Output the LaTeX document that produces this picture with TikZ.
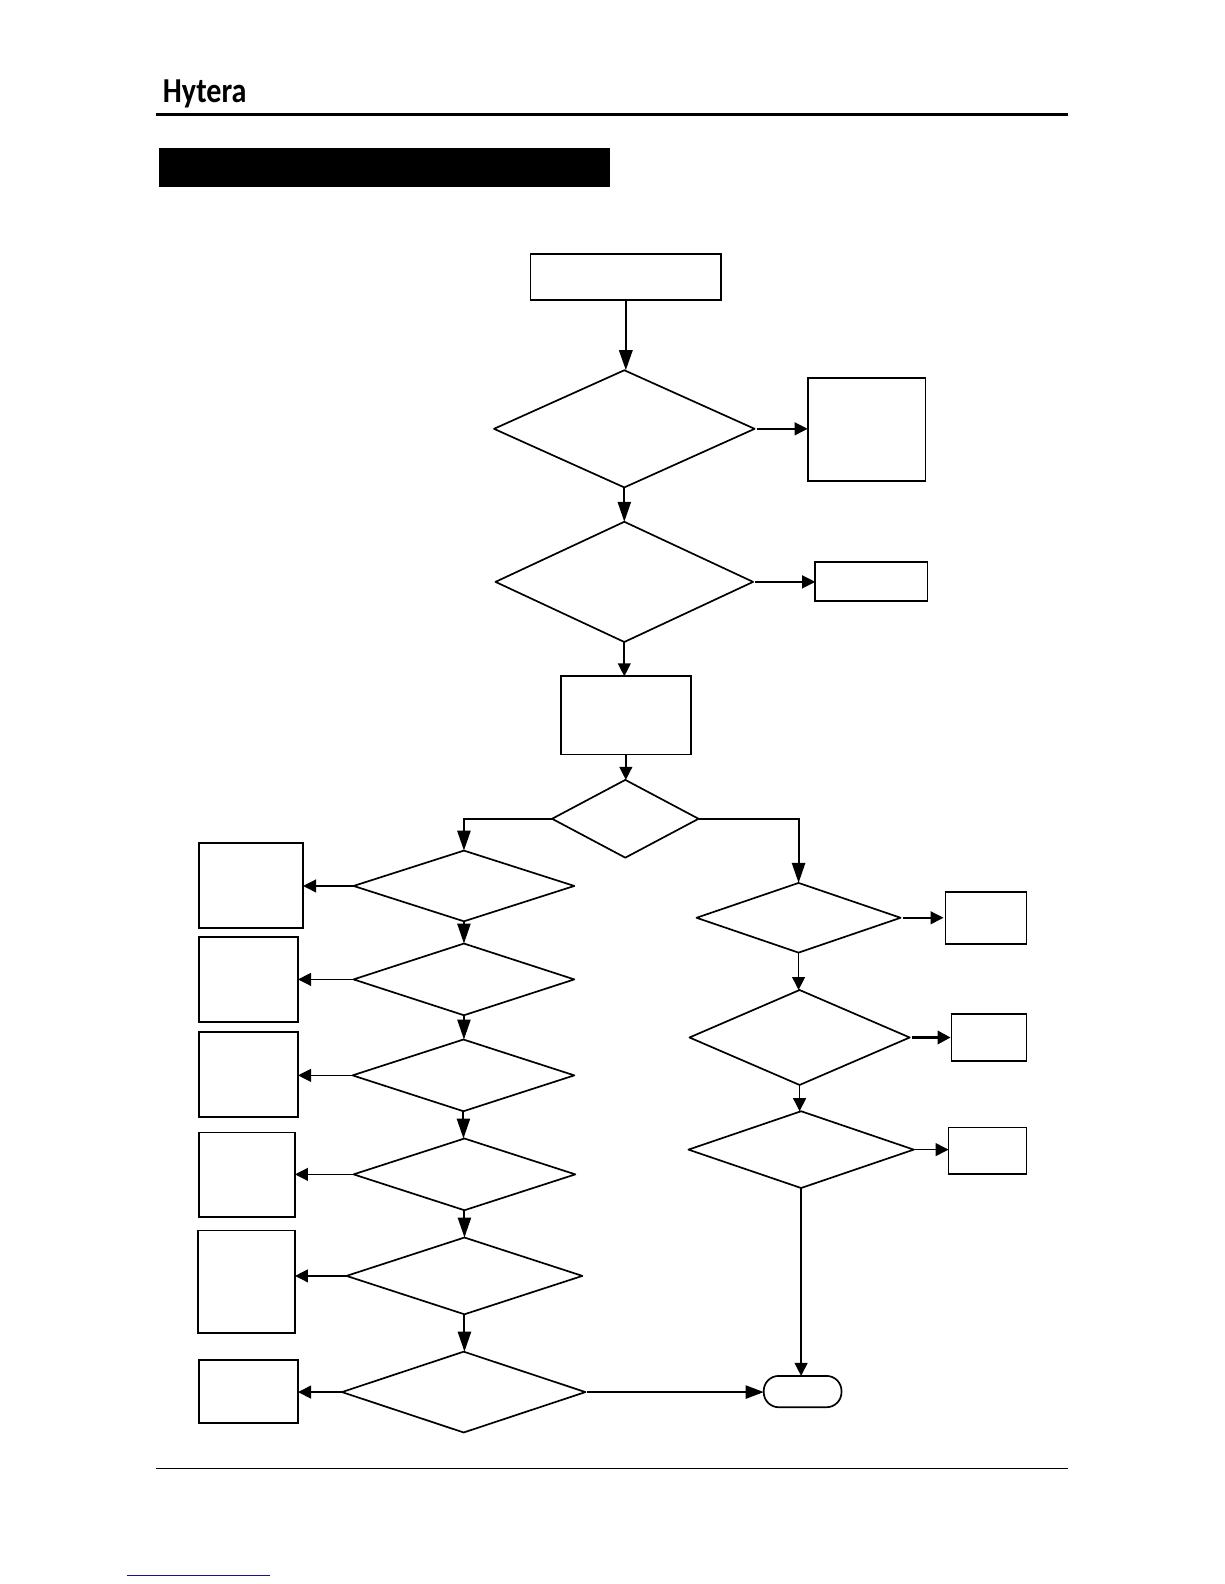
\documentclass[tikz,border=0pt]{standalone}
\usepackage{fontspec}
\setmainfont{Carlito}
\usetikzlibrary{shapes.geometric,arrows.meta}
\def\U{0.50495pt}
\tikzset{
  boxs/.style={draw=black,line width=0.85pt,inner sep=0pt,outer sep=0pt,rectangle},
  dias/.style={draw=black,line width=0.85pt,line join=round,inner sep=0pt,outer sep=0pt,diamond},
  termin/.style={draw=black,line width=0.85pt,inner sep=0pt,outer sep=0pt,rectangle,rounded corners=7.5pt},
  conn/.style={draw=black,line width=0.85pt,-{Triangle[length=6.5pt,width=6.4pt]}},
  tallconn/.style={draw=black,line width=0.95pt,-{Triangle[length=10pt,width=6.6pt]}},
  connthick/.style={draw=black,line width=1.4pt,-{Triangle[length=6.5pt,width=6.6pt]}},
  rule/.style={draw=black,line cap=butt},
}
\newcommand{\RB}[5]{\node[boxs,minimum width={(#4-#2)*\U},minimum height={(#5-#3)*\U}] (#1) at ({(#2+#4)/2},{(#3+#5)/2}) {};}
\newcommand{\DM}[5]{\node[dias,minimum width={(#4-#2)*\U},minimum height={(#5-#3)*\U}] (#1) at ({(#2+#4)/2},{(#3+#5)/2}) {};}
\begin{document}
\begin{tikzpicture}[x=\U,y=-\U]
\useasboundingbox (0,0) rectangle (1212,1568);
% header and footer
\node[anchor=base west,inner sep=0pt,transform shape,xscale=0.86,font=\fontsize{17.5pt}{18pt}\selectfont\bfseries] (logo) at (161,101) {Hytera};
\coordinate (ruleAl) at (154,113); \coordinate (ruleAr) at (1057,113);
\draw[rule,line width=1.5pt] (ruleAl) -- (ruleAr);
\node[fill=black,draw=none,inner sep=0pt,outer sep=0pt,minimum width={447*\U},minimum height={38.5*\U}] (title) at (380.5,165.7) {};
\coordinate (ruleBl) at (154,1454); \coordinate (ruleBr) at (1057,1454);
\draw[rule,line width=0.5pt] (ruleBl) -- (ruleBr);
\coordinate (linkl) at (126,1559.5); \coordinate (linkr) at (267,1559.5);
\draw[draw={rgb,255:red,20;green,20;blue,130},line width=0.6pt] (linkl) -- (linkr);
% central column
\RB{start}{525}{251.5}{714}{297}
\DM{Da}{489}{366.5}{747}{482.5}
\RB{Ba}{799.5}{374.5}{916}{476}
\DM{Db}{490.5}{516.5}{745.5}{635.5}
\RB{Bb}{807}{556.5}{918}{595}
\RB{Bc}{555}{669.5}{684}{747}
\DM{Dc}{546.5}{772}{691.5}{849}
% left column
\DM{La}{350}{842}{568.5}{912}
\DM{Lb}{350}{934}{568.5}{1005}
\DM{Lc}{349}{1029}{568.5}{1100}
\DM{Ld}{350}{1127}{569.5}{1198}
\DM{Le}{343}{1225}{576.5}{1301}
\DM{Lf}{338.5}{1338}{579.5}{1418}
\RB{Pa}{197}{834.5}{300}{918.5}
\RB{Pb}{197}{927.5}{295}{1012}
\RB{Pc}{197}{1021.5}{295}{1106}
\RB{Pd}{197}{1121}{292}{1205}
\RB{Pe}{196}{1218}{292}{1319.5}
\RB{Pf}{197}{1346}{295}{1408.5}
% right column
\DM{Ra}{689.5}{874}{891.5}{943}
\DM{Rb}{682.5}{980}{900.5}{1074}
\DM{Rc}{681.5}{1100}{904.5}{1176}
\RB{Qa}{936}{883}{1016}{934.5}
\RB{Qb}{942}{1004}{1016}{1050}
\RB{Qc}{939}{1116}{1016}{1162}
\node[termin,minimum width={77*\U},minimum height={31*\U}] (End) at (794.5,1377.5) {};
% connectors
\draw[tallconn,line width=1.3pt] (start.south) -- (start.south |- Da.north);
\draw[tallconn] (Da.south) -- (Da.south |- Db.north);
\draw[conn,shorten <=1pt] (Da.east) -- (Da.east -| Ba.west);
\draw[conn,shorten <=1pt] (Db.east) -- (Db.east -| Bb.west);
\draw[conn] (Db.south) -- (Db.south |- Bc.north);
\draw[conn] (Bc.south) -- (Bc.south |- Dc.north);
\draw[tallconn,line width=1.1pt] (Dc.west) -| (La.north);
\draw[tallconn] (Dc.east) -| (Ra.north);
\draw[tallconn] (La.south) -- (La.south |- Lb.north);
\draw[tallconn] (Lb.south) -- (Lb.south |- Lc.north);
\draw[tallconn] (Lc.south) -- (Lc.south |- Ld.north);
\draw[tallconn] (Ld.south) -- (Ld.south |- Le.north);
\draw[tallconn] (Le.south) -- (Le.south |- Lf.north);
\draw[conn] (La.west) -- (La.west -| Pa.east);
\draw[conn] (Lb.west) -- (Lb.west -| Pb.east);
\draw[conn] (Lc.west) -- (Lc.west -| Pc.east);
\draw[conn] (Ld.west) -- (Ld.west -| Pd.east);
\draw[conn] (Le.west) -- (Le.west -| Pe.east);
\draw[conn] (Lf.west) -- (Lf.west -| Pf.east);
\draw[conn,-{Triangle[length=9pt,width=6.6pt]},shorten <=1pt] (Lf.east) -- (Lf.east -| End.west);
\draw[conn] (Ra.south) -- (Ra.south |- Rb.north);
\draw[conn] (Rb.south) -- (Rb.south |- Rc.north);
\draw[conn] (Rc.south) -- (Rc.south |- End.north);
\draw[conn,shorten <=1pt,shorten >=1pt] (Ra.east) -- (Ra.east -| Qa.west);
\draw[connthick,shorten <=1pt,shorten >=0.5pt] (Rb.east) -- (Rb.east -| Qb.west);
\draw[conn] (Rc.east) -- (Rc.east -| Qc.west);
\end{tikzpicture}
\end{document}
